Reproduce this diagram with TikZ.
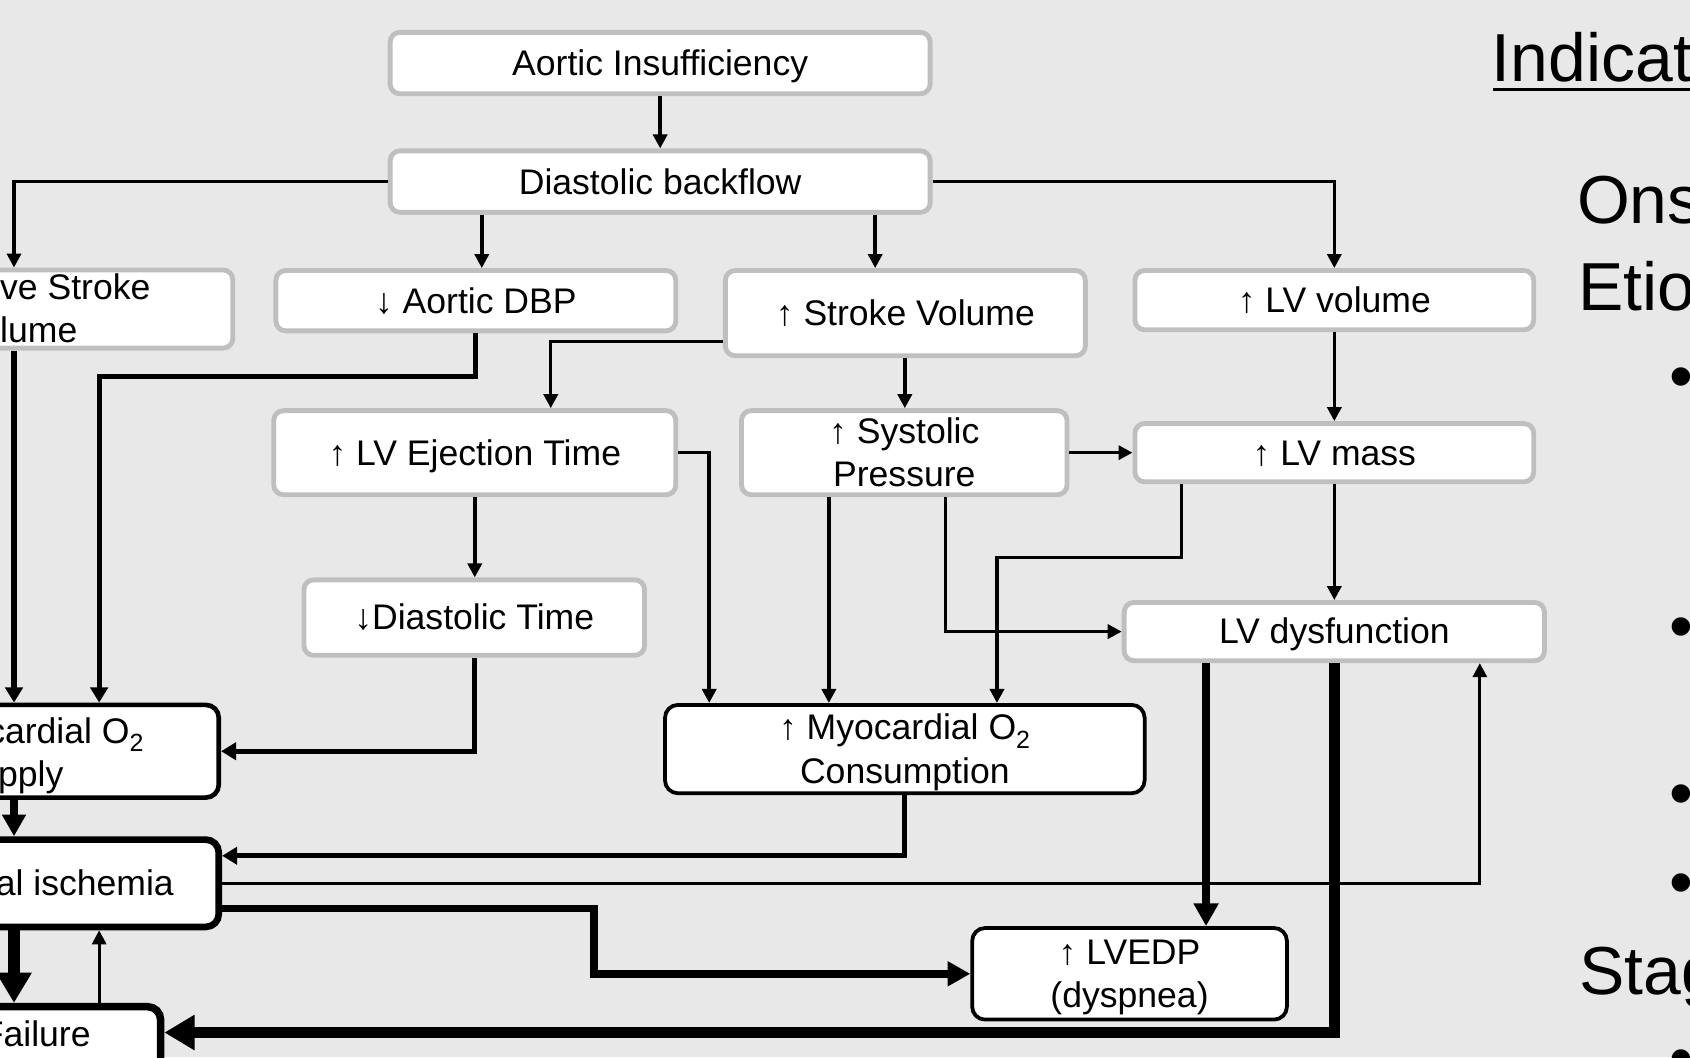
\documentclass[tikz,border=0pt]{standalone}
\usepackage{fontspec}
\setmainfont{Liberation Sans}
\usetikzlibrary{arrows.meta}
\definecolor{bgcol}{HTML}{E8E8E8}
\definecolor{bordgray}{HTML}{BFBFBF}
\newcommand\pst{\vrule width 0pt height 30pt depth 7pt}
\begin{document}
\begin{tikzpicture}[x=1pt,y=-1pt,
  boxtext/.style={font=\fontsize{33}{40}\selectfont, align=center, inner sep=0pt},
  gbox/.style={boxtext, draw=bordgray, line width=4.5pt, fill=white, rounded corners=9pt},
  kbox/.style={boxtext, draw=black, line width=#1, fill=white, rounded corners=12pt},
  rtext/.style={font=\fontsize{63}{75}\selectfont, inner sep=0pt},
  arthin/.style={line width=2.8pt, -{Triangle[length=13pt,width=13pt]}},
  arone/.style={line width=3.2pt, -{Triangle[length=13pt,width=13pt]}},
  artwo/.style={line width=4.8pt, -{Triangle[length=14pt,width=16pt]}},
  arthree/.style={line width=7pt, -{Triangle[length=21pt,width=22pt]}},
  arfour/.style={line width=10.5pt, -{Triangle[length=28pt,width=31pt]}}
]
\path[use as bounding box] (0,0) rectangle (1568,981);
\clip (0,0) rectangle (1568,981);
\fill[bgcol] (0,0) rectangle (1568,981);

% grey boxes
\node[gbox, minimum width=501pt, minimum height=57pt] (ai) at (612.5,58.5) {\pst Aortic Insufficiency};
\node[gbox, minimum width=501pt, minimum height=57pt] (db) at (612.5,168.5) {\pst Diastolic backflow};
\node[gbox, minimum width=316pt, minimum height=72.5pt] (esv) at (58,286.75) {};
\node[boxtext, anchor=west, align=left] (esvt) at (0,286.5) {\pst ve Stroke\\\pst lume};
\node[gbox, minimum width=371pt, minimum height=56pt] (adbp) at (441.5,279) {\pst ↓ Aortic DBP};
\node[gbox, minimum width=334pt, minimum height=79pt] (sv) at (840,290.5) {\pst ↑ Stroke Volume};
\node[gbox, minimum width=370pt, minimum height=55pt] (lvv) at (1238,278.5) {\pst ↑ LV volume};
\node[gbox, minimum width=373pt, minimum height=78pt] (lvet) at (440.5,420) {\pst ↑ LV Ejection Time};
\node[gbox, minimum width=302pt, minimum height=78pt] (sp) at (839,420) {\pst ↑ Systolic\\\pst Pressure};
\node[gbox, minimum width=370pt, minimum height=54pt] (lvm) at (1238,420) {\pst ↑ LV mass};
\node[gbox, minimum width=316pt, minimum height=70pt] (dt) at (440,573) {\pst ↓Diastolic Time};
\node[gbox, minimum width=390pt, minimum height=54pt] (lvd) at (1238,586) {\pst LV dysfunction};

% black boxes
\node[kbox=4.3pt, minimum width=303pt, minimum height=86pt] (sup) at (51.5,697) {};
\node[boxtext, anchor=west, align=left] (supt) at (-12,698.5) {\pst cardial O\textsubscript{2}\\\pst\hspace*{10pt}pply};
\node[kbox=3.5pt, minimum width=445pt, minimum height=82pt] (mc) at (839.5,695) {\pst ↑ Myocardial O\textsubscript{2}\\\pst Consumption};
\node[kbox=6.2pt, minimum width=303pt, minimum height=81pt] (isch) at (51.5,819.5) {};
\node[boxtext, anchor=west] (ischt) at (-4,819.5) {\pst al ischemia};
\node[kbox=3.5pt, minimum width=292pt, minimum height=85pt] (lvedp) at (1048,903.5) {\pst ↑ LVEDP\\\pst (dyspnea)};
\node[kbox=7pt, minimum width=249pt, minimum height=106pt] (fail) at (24.5,987) {};
\node[boxtext, anchor=west] (failt) at (-17,959) {\pst Failure};

% connectors
\draw[arthin] (isch.east |- 0,820) -| (1373,0 |- lvd.south);
\draw[arone] (ai.south) -- (db.north);
\draw[arone] (db.west) -| (13,0 |- esv.north);
\draw[arone] (447,0 |- db.south) -- (447,0 |- adbp.north);
\draw[arone] (812,0 |- db.south) -- (812,0 |- sv.north);
\draw[arone] (db.east) -| (lvv.north);
\draw[artwo] (13,0 |- esv.south) -- (13,0 |- sup.north);
\draw[artwo] (adbp.south) |- (92,349) -- (92,0 |- sup.north);
\draw[arone] (sv.west |- 0,317) -| (511,0 |- lvet.north);
\draw[arone] (839.5,0 |- sv.south) -- (839.5,0 |- sp.north);
\draw[arone] (lvv.south) -- (lvm.north);
\draw[arone] (lvet.east) -| (658,0 |- mc.north);
\draw[arone] (lvet.south) -- (lvet.south |- dt.north);
\draw[artwo] (dt.south) |- (sup.east);
\draw[arone] (sp.east) -- (lvm.west);
\draw[arone] (769,0 |- sp.south) -- (769,0 |- mc.north);
\draw[arone] (877,0 |- sp.south) |- (lvd.west);
\draw[arone] (1096,0 |- lvm.south) |- (925,517) -- (925,0 |- mc.north);
\draw[arone] (lvm.south) -- (lvd.north);
\draw[line width=7.5pt, -{Triangle[length=20pt,width=21pt]}] (13,0 |- sup.south) -- (13,0 |- isch.north);
\draw[artwo] (mc.south) |- (isch.east |- 0,794);
\draw[arthree] (isch.east |- 0,843) -| (551,0 |- lvedp.west) -- (lvedp.west);
\draw[arthree] (1119,0 |- lvd.south) -- (1119,0 |- lvedp.north);
\draw[arfour] (1238,0 |- lvd.south) |- (fail.east |- 0,958);
\draw[arfour] (13,0 |- isch.south) -- (13,0 |- fail.north);
\draw[arthin] (92,0 |- fail.north) -- (92,0 |- isch.south);

% right panel text
\node[rtext, anchor=base west] (ind) at (1384,76) {Indicat};
\draw[line width=3.5pt] (1385,83) -- (1570,83);
\node[rtext, anchor=base west] (ons) at (1463,207) {Ons};
\node[rtext, anchor=base west] (etio) at (1464,288) {Etio};
\node[rtext, anchor=base west] (stag) at (1465,923) {Stag};
\node[rtext] (bA) at (1560,356) {•};
\node[rtext] (bB) at (1560,588) {•};
\node[rtext] (bC) at (1560,743) {•};
\node[rtext] (bD) at (1560,825) {•};
\node[rtext] (bE) at (1560,989) {•};
\end{tikzpicture}
\end{document}
